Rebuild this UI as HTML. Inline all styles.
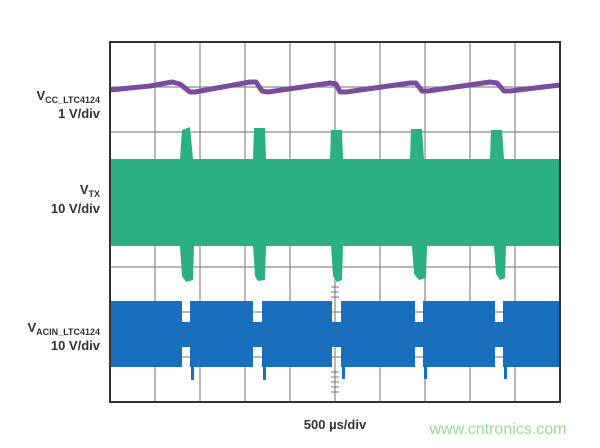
<!DOCTYPE html>
<html><head><style>
body{margin:0;background:#fff;width:600px;height:443px;overflow:hidden;font-family:"Liberation Sans",sans-serif}
</style></head><body>
<svg width="600" height="443" xmlns="http://www.w3.org/2000/svg">
<g stroke="#8a8a8a" stroke-width="1.2">
<line x1="155" y1="42" x2="155" y2="402"/><line x1="200" y1="42" x2="200" y2="402"/><line x1="245" y1="42" x2="245" y2="402"/><line x1="290" y1="42" x2="290" y2="402"/><line x1="335" y1="42" x2="335" y2="402"/><line x1="380" y1="42" x2="380" y2="402"/><line x1="425" y1="42" x2="425" y2="402"/><line x1="470" y1="42" x2="470" y2="402"/><line x1="515" y1="42" x2="515" y2="402"/>
<line x1="110" y1="87" x2="560" y2="87"/><line x1="110" y1="132" x2="560" y2="132"/><line x1="110" y1="177" x2="560" y2="177"/><line x1="110" y1="222" x2="560" y2="222"/><line x1="110" y1="267" x2="560" y2="267"/><line x1="110" y1="312" x2="560" y2="312"/><line x1="110" y1="357" x2="560" y2="357"/>
</g>
<g fill="#2bb083">
<rect x="110" y="159" width="450" height="87"/>
<path d="M180 159 L182 130 L190 127 L193 159Z M253 159 L254 128 L265 128 L266 159Z M330 159 L331 130 L342 130 L343 159Z M410 159 L411 129 L422 129 L424 159Z M490 159 L491 130 L502 130 L504 159Z"/>
<path d="M180 246 L182 276 L186 282 L193 280 L194 246Z M253 246 L255 276 L258 281 L265 280 L266 246Z M331 246 L333 276 L337 282 L342 280 L343 246Z M412 246 L414 274 L419 280 L426 278 L427 246Z M494 246 L496 274 L500 280 L505 278 L506 246Z"/>
</g>
<g fill="#1a6fbd">
<path d="M110 301 H182 V322 H190 V301 H253 V322 H262 V301 H332 V322 H341 V301 H415 V322 H423 V301 H495 V322 H503 V301 H560 V367 H503 V347 H495 V367 H423 V347 H415 V367 H341 V347 H332 V367 H262 V347 H253 V367 H190 V347 H182 V367 H110Z"/>
<rect x="191" y="347" width="3" height="33"/><rect x="263" y="347" width="3" height="33"/><rect x="342" y="347" width="3" height="32"/><rect x="424" y="347" width="3" height="32"/><rect x="504" y="347" width="3" height="32"/>
</g>
<polyline fill="none" stroke="#7b4b9e" stroke-width="5" stroke-linejoin="round" points="110,90 150,86 172,82 180,84 190,92 195,92 250,82 256,82 262,91 268,92 330,83 336,84 340,92 346,92 410,83 416,83 422,91 428,91 490,82 497,83 504,91 510,91 560,85"/>
<g stroke="#777" stroke-width="1">
<line x1="331" y1="287" x2="339" y2="287"/><line x1="331" y1="292" x2="339" y2="292"/><line x1="331" y1="297" x2="339" y2="297"/><line x1="331" y1="372" x2="339" y2="372"/><line x1="331" y1="377" x2="339" y2="377"/><line x1="331" y1="382" x2="339" y2="382"/><line x1="331" y1="387" x2="339" y2="387"/><line x1="331" y1="392" x2="339" y2="392"/>
</g>
<rect x="110" y="42" width="450" height="360" fill="none" stroke="#333" stroke-width="2"/>
<g fill="#333" font-weight="bold" text-anchor="end" font-size="13">
<text x="100" y="100">V<tspan font-size="9" dy="3">CC_LTC4124</tspan></text>
<text x="100" y="118">1 V/div</text>
<text x="100" y="194">V<tspan font-size="9" dy="3">TX</tspan></text>
<text x="100" y="213">10 V/div</text>
<text x="100" y="332">V<tspan font-size="9" dy="3">ACIN_LTC4124</tspan></text>
<text x="100" y="350">10 V/div</text>
</g>
<text x="335" y="429" text-anchor="middle" font-weight="bold" font-size="13" fill="#333">500 µs/div</text>
<text x="498" y="434" text-anchor="middle" font-size="16" fill="#a0d4a0">www.cntronics.com</text>
</svg>
</body></html>
